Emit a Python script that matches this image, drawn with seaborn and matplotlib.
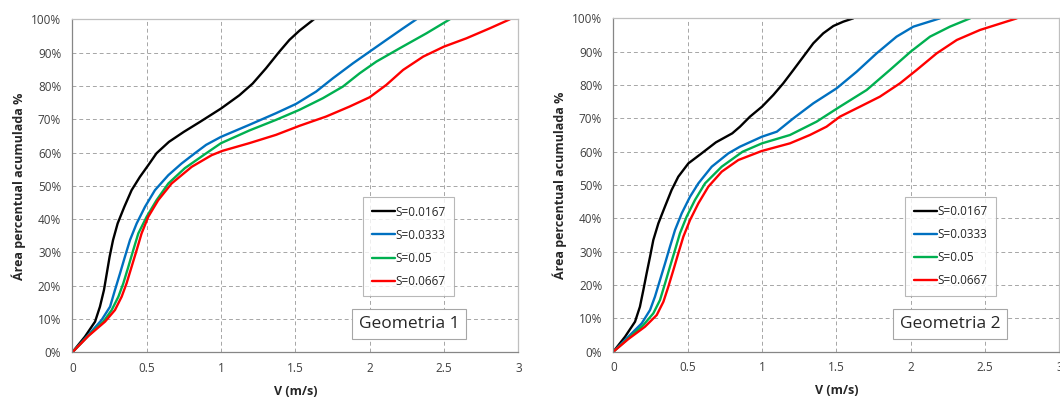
import matplotlib
matplotlib.use("Agg")
import matplotlib.pyplot as plt
import seaborn as sns
import pandas as pd
from matplotlib.ticker import FuncFormatter, MultipleLocator

series_labels = ["S=0.0167", "S=0.0333", "S=0.05", "S=0.0667"]
colors = ["#000000", "#0070C0", "#00B050", "#FF0000"]
panel_titles = ["Geometria 1", "Geometria 2"]

# Geometria 1: V (m/s) and cumulative area (%)
g1_v_0167 = [0, 0.085, 0.153, 0.186, 0.213, 0.232, 0.251, 0.274, 0.305, 0.35, 0.399, 0.455, 0.511, 0.567, 0.65, 0.75, 0.859, 1.0, 1.124, 1.213, 1.303, 1.393, 1.46, 1.528, 1.625]
g1_p_0167 = [0, 4.7, 9.2, 13.7, 18.7, 23.7, 28.7, 33.7, 38.7, 43.7, 48.7, 52.7, 56.2, 59.8, 63.2, 66.2, 69.2, 73.2, 77.2, 80.7, 85.3, 90.3, 93.8, 96.6, 100]
g1_v_0333 = [0, 0.108, 0.197, 0.254, 0.287, 0.321, 0.354, 0.388, 0.433, 0.489, 0.556, 0.646, 0.735, 0.825, 0.9, 1.0, 1.19, 1.37, 1.505, 1.64, 1.753, 1.888, 2.0, 2.112, 2.225, 2.314]
g1_p_0333 = [0, 5.2, 9.7, 13.7, 18.7, 23.7, 28.7, 33.7, 38.7, 43.7, 48.7, 53.2, 56.7, 59.8, 62.3, 64.7, 68.3, 71.8, 74.6, 78.3, 82.3, 86.8, 90.3, 93.8, 97.3, 100]
g1_v_05 = [0, 0.108, 0.209, 0.265, 0.31, 0.343, 0.377, 0.41, 0.444, 0.5, 0.567, 0.646, 0.757, 0.892, 1.0, 1.19, 1.37, 1.527, 1.685, 1.82, 1.933, 2.045, 2.202, 2.382, 2.539]
g1_p_05 = [0, 5.0, 9.2, 12.7, 16.7, 20.7, 25.7, 30.7, 35.7, 40.7, 45.7, 50.7, 55.3, 59.5, 62.8, 66.6, 69.8, 72.8, 76.3, 79.8, 83.8, 87.3, 91.3, 95.8, 100]
g1_v_0667 = [0, 0.108, 0.22, 0.287, 0.332, 0.365, 0.399, 0.433, 0.466, 0.511, 0.578, 0.668, 0.803, 0.937, 1.01, 1.19, 1.37, 1.527, 1.707, 1.865, 2.0, 2.112, 2.225, 2.36, 2.5, 2.651, 2.808, 2.943]
g1_p_0667 = [0, 4.9, 9.2, 12.7, 16.7, 20.7, 25.7, 30.7, 35.7, 40.7, 45.7, 50.7, 55.7, 59.2, 60.5, 62.8, 65.3, 68.0, 70.8, 73.8, 76.6, 80.3, 84.8, 88.8, 91.8, 94.3, 97.3, 100]

# Geometria 2
g2_v_0167 = [0, 0.079, 0.146, 0.179, 0.202, 0.224, 0.247, 0.269, 0.303, 0.347, 0.392, 0.437, 0.505, 0.594, 0.69, 0.8, 0.852, 0.919, 1.0, 1.076, 1.143, 1.211, 1.278, 1.345, 1.412, 1.48, 1.547, 1.614]
g2_p_0167 = [0, 4.5, 9.0, 13.5, 18.5, 23.5, 28.5, 33.5, 38.5, 43.5, 48.5, 52.5, 56.5, 59.5, 62.8, 65.5, 67.5, 70.5, 73.5, 77.0, 80.5, 84.5, 88.5, 92.5, 95.5, 97.7, 99.0, 100]
g2_v_0333 = [0, 0.101, 0.191, 0.247, 0.28, 0.314, 0.348, 0.381, 0.415, 0.46, 0.516, 0.572, 0.662, 0.774, 0.852, 1.0, 1.1, 1.211, 1.345, 1.502, 1.637, 1.771, 1.905, 2.018, 2.197]
g2_p_0333 = [0, 4.5, 8.5, 12.5, 16.5, 21.5, 26.5, 31.5, 36.5, 41.5, 46.5, 50.5, 55.5, 59.5, 61.5, 64.5, 66.0, 70.0, 74.5, 79.0, 84.0, 89.5, 94.5, 97.5, 100]
g2_v_05 = [0, 0.101, 0.202, 0.269, 0.314, 0.348, 0.381, 0.415, 0.448, 0.493, 0.549, 0.617, 0.729, 0.87, 1.0, 1.188, 1.367, 1.524, 1.704, 1.86, 2.0, 2.13, 2.264, 2.4]
g2_p_05 = [0, 4.0, 8.0, 11.5, 15.5, 20.5, 25.5, 30.5, 35.5, 40.5, 45.5, 50.5, 55.5, 60.0, 62.5, 65.0, 69.0, 73.5, 78.5, 84.5, 90.0, 94.5, 97.5, 100]
g2_v_0667 = [0, 0.101, 0.213, 0.292, 0.337, 0.37, 0.404, 0.437, 0.471, 0.516, 0.572, 0.639, 0.729, 0.841, 0.998, 1.188, 1.322, 1.434, 1.524, 1.659, 1.793, 1.928, 2.04, 2.175, 2.31, 2.466, 2.714]
g2_p_0667 = [0, 3.8, 7.5, 11.0, 15.0, 19.5, 24.5, 29.5, 34.5, 39.5, 44.5, 49.5, 54.0, 57.5, 60.2, 62.5, 65.0, 67.5, 70.5, 73.5, 76.5, 80.5, 84.5, 89.5, 93.5, 96.5, 100]

panels = [
    [(g1_v_0167, g1_p_0167), (g1_v_0333, g1_p_0333), (g1_v_05, g1_p_05), (g1_v_0667, g1_p_0667)],
    [(g2_v_0167, g2_p_0167), (g2_v_0333, g2_p_0333), (g2_v_05, g2_p_05), (g2_v_0667, g2_p_0667)],
]

sns.set_theme(style="white")
plt.rcParams['font.family'] = ['Open Sans', 'DejaVu Sans']

fig = plt.figure(figsize=(10.6, 3.99), dpi=100)
rects = [[0.0682, 0.117, 0.4208, 0.8346], [0.5786, 0.1185, 0.4208, 0.8356]]
legend_pos = [(0.6525, 0.4655), (0.6545, 0.464)]
title_pos = [(0.7545, 0.0844), (0.7553, 0.084)]

for i, (rect, data) in enumerate(zip(rects, panels)):
    ax = fig.add_axes(rect)
    rows = []
    for lab, (vs, ps) in zip(series_labels, data):
        for v, p in zip(vs, ps):
            rows.append({"V": v, "P": p, "S": lab})
    df = pd.DataFrame(rows)
    sns.lineplot(data=df, x="V", y="P", hue="S", hue_order=series_labels,
                 palette=dict(zip(series_labels, colors)), sort=False,
                 estimator=None, linewidth=1.7, ax=ax,
                 solid_joinstyle="round", solid_capstyle="round")
    ax.set_xlim(0, 3)
    ax.set_ylim(0, 100)
    ax.xaxis.set_major_locator(MultipleLocator(0.5))
    ax.yaxis.set_major_locator(MultipleLocator(10))
    ax.xaxis.set_major_formatter(FuncFormatter(lambda x, p: f"{x:g}"))
    ax.yaxis.set_major_formatter(FuncFormatter(lambda y, p: f"{int(round(y))}%"))
    ax.grid(True, color="#A6A6A6", linestyle=(0, (4, 3)), linewidth=0.7)
    for side in ["left", "bottom"]:
        ax.spines[side].set_color("#868686")
        ax.spines[side].set_linewidth(0.9)
    for side in ["top", "right"]:
        ax.spines[side].set_color("#BFBFBF")
        ax.spines[side].set_linewidth(0.9)
    ax.tick_params(axis="both", labelsize=8.5, colors="#404040", width=0.7,
                   direction="out")
    ax.tick_params(axis="x", color="#868686", length=3, pad=4)
    ax.tick_params(axis="y", length=0, pad=8)
    ax.set_xlabel("V (m/s)", fontsize=9, fontweight="bold", color="#262626", labelpad=7)
    ax.set_ylabel("Área percentual acumulada %", fontsize=9, fontweight="bold",
                  color="#262626", labelpad=4)
    leg = ax.legend(loc="upper left", bbox_to_anchor=legend_pos[i], fontsize=8.5,
                    frameon=True, fancybox=False, handlelength=2.0,
                    handletextpad=0.0, labelspacing=0.85, borderpad=0.7,
                    borderaxespad=0)
    leg.get_frame().set_edgecolor("#A6A6A6")
    leg.get_frame().set_linewidth(0.8)
    for t in leg.get_texts():
        t.set_color("#262626")
    ax.text(title_pos[i][0], title_pos[i][1], panel_titles[i], transform=ax.transAxes,
            ha="center", va="center", fontsize=12.5, color="#262626",
            bbox=dict(boxstyle="square,pad=0.4", facecolor="white",
                      edgecolor="#A6A6A6", linewidth=0.8))

fig.savefig("out.png", dpi=100)
